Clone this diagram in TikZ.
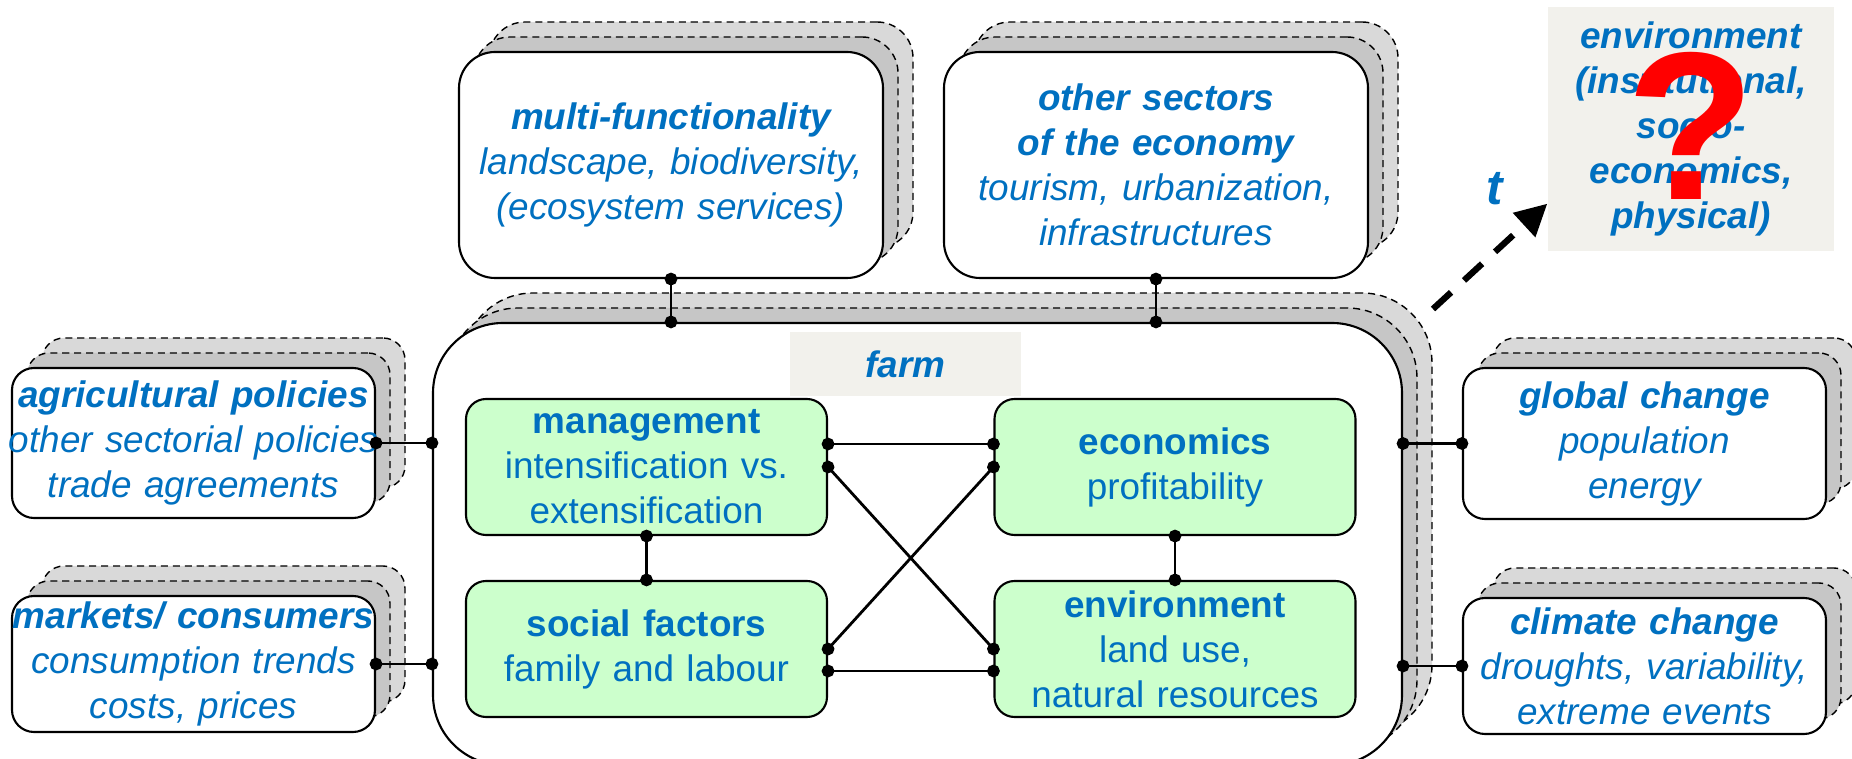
\documentclass[tikz,border=0pt]{standalone}
\usepackage{fontspec}
\setmainfont{Liberation Sans}
\usepackage{xcolor}
\usetikzlibrary{arrows.meta,shadows}

\definecolor{txtblue}{HTML}{0070C0}
\definecolor{boxgreen}{HTML}{CCFFCC}
\definecolor{paper}{HTML}{F2F1EC}
\definecolor{shadelight}{HTML}{D9D9D9}
\definecolor{shadedark}{HTML}{C6C6C6}
\newcommand{\boxfont}{\fontsize{10.5}{12.8}\selectfont}
\hyphenpenalty=10000

\tikzset{
  stack/.style={
    general shadow={shadow xshift=0.30cm, shadow yshift=0.30cm, fill=shadelight, draw=black, dash pattern=on 2pt off 1.4pt, line width=0.4pt},
    general shadow={shadow xshift=0.15cm, shadow yshift=0.15cm, fill=shadedark, draw=black, dash pattern=on 2pt off 1.4pt, line width=0.4pt}},
  driver/.style={stack, draw, line width=0.6pt, fill=white, align=center, inner ysep=0pt,
    text=txtblue, font=\boxfont\itshape},
  side/.style={driver, rounded corners=0.22cm, text width=3.75cm, inner xsep=-0.06cm},
  upper/.style={driver, rounded corners=0.36cm, text width=4.24cm, inner xsep=0pt, minimum height=2.26cm},
  part/.style={draw, line width=0.6pt, fill=boxgreen, rounded corners=0.2cm, align=center, text width=3.61cm,
    minimum height=1.36cm, inner xsep=0pt, inner ysep=0pt, text=txtblue, font=\boxfont},
  tag/.style={fill=paper, align=center, inner sep=0pt, text=txtblue, font=\boxfont\bfseries\itshape},
  link/.style={{Circle[length=3.6pt]}-{Circle[length=3.6pt]}, line width=0.8pt, shorten <=-1.8pt, shorten >=-1.8pt},
  arrow/.style={-{Triangle[length=9pt,width=9pt]}, line width=1.8pt, dash pattern=on 7pt off 5pt}
}

\begin{document}
\begin{tikzpicture}
  \useasboundingbox (0,0) rectangle (18.52,7.59);
  % the farm and its four parts
  \node[stack, draw, fill=white, line width=0.6pt, rounded corners=0.7cm, minimum width=9.69cm, minimum height=4.42cm] (farm) at (9.175,2.15) {};
  \node[tag, minimum width=2.31cm, minimum height=0.64cm] (farmtag) at (9.055,3.95) {farm};
  \node[part] (mgmt) at (6.465,2.92) {\textbf{management}\\intensification vs.\\extensification};
  \node[part] (econ) at (11.75,2.92) {\textbf{economics}\\profitability};
  \node[part] (soc)  at (6.465,1.10) {\textbf{social factors}\\family and labour};
  \node[part] (envn) at (11.75,1.10) {\textbf{environment}\\land use,\\natural resources};

  % drivers around the farm
  \node[side, minimum height=1.50cm] (agpol) at (1.935,3.16) {\textbf{agricultural policies}\\other sectorial policies\\trade agreements};
  \node[side, minimum height=1.36cm] (mkt) at (1.935,0.95) {\textbf{markets/ consumers}\\consumption trends\\costs, prices};
  \node[side, minimum height=1.51cm] (glob) at (16.445,3.155) {\textbf{global change}\\population\\energy};
  \node[side, minimum height=1.36cm] (clim) at (16.445,0.93) {\textbf{climate change}\\droughts, variability,\\extreme events};
  \node[upper] (multi) at (6.71,5.94) {\textbf{multi-functionality}\\landscape, biodiversity,\\(ecosystem services)};
  \node[upper] (other) at (11.56,5.94) {\textbf{other sectors}\\\textbf{of the economy}\\tourism, urbanization,\\infrastructures};

  % future environment
  \node[tag, text width=2.86cm, minimum height=2.44cm] (outlook) at (16.91,6.30) {environment\\(institutional,\\socio-\\economics,\\physical)};
  \node[anchor=base, inner sep=0pt, text=red, font=\fontsize{60}{60}\selectfont\bfseries] (qmark) at ([yshift=-0.71cm]outlook.center) {?};
  \node[text=txtblue, font=\fontsize{14}{14}\selectfont\bfseries\itshape] (tlabel) at (14.95,5.70) {t};
  \coordinate (tstart) at (14.33,4.50);
  \draw[arrow] (tstart) -- ([yshift=0.48cm]outlook.south west);

  % links
  \draw[link] (agpol.east) -- (agpol.east -| farm.west);
  \draw[link] (mkt.east) -- (mkt.east -| farm.west);
  \draw[link] (glob.west -| farm.east) -- (glob.west);
  \draw[link] (clim.west -| farm.east) -- (clim.west);
  \draw[link] (multi.south) -- (multi.south |- farm.north);
  \draw[link] (other.south) -- (other.south |- farm.north);
  \draw[link] ([yshift=0.23cm]mgmt.east) -- ([yshift=0.23cm]econ.west);
  \draw[link] (mgmt.east) -- (envn.west);
  \draw[link] (econ.west) -- (soc.east);
  \draw[link] ([yshift=-0.22cm]soc.east) -- ([yshift=-0.22cm]envn.west);
  \draw[link] (mgmt.south) -- (soc.north);
  \draw[link] (econ.south) -- (envn.north);
\end{tikzpicture}
\end{document}
